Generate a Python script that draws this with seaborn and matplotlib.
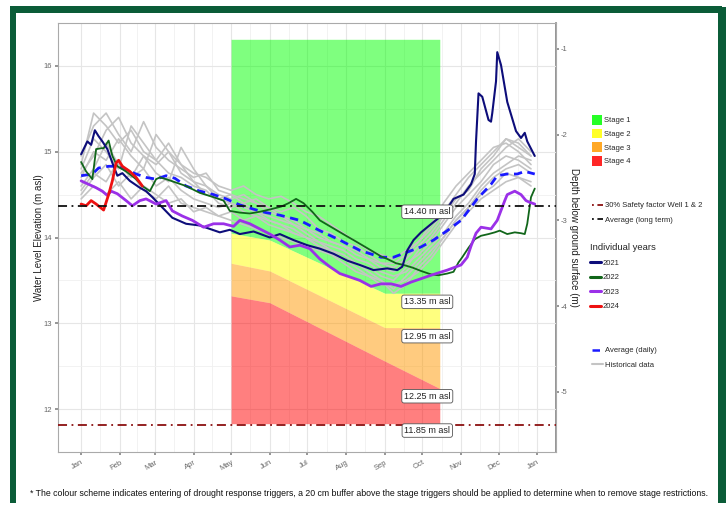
import numpy as np
import pandas as pd
import seaborn as sns
import matplotlib.pyplot as plt
from matplotlib.patches import Patch, Rectangle
from matplotlib.lines import Line2D

# ---- axis setup -------------------------------------------------------------
month_days = [0, 31, 59, 90, 120, 151, 181, 212, 243, 273, 304, 334, 365]
month_labels = ["Jan", "Feb", "Mar", "Apr", "May", "Jun", "Jul",
                "Aug", "Sep", "Oct", "Nov", "Dec", "Jan"]

# ---- drought stage triggers (m asl) ----------------------------------------
stage_days = [120, 151, 243, 287]
stage1_top = [16.31, 16.31, 16.31, 16.31]
stage2_top = [14.05, 13.97, 13.35, 13.35]
stage3_top = [13.70, 13.61, 12.95, 12.95]
stage4_top = [13.32, 13.24, 12.56, 12.24]
stage_floor = 11.83

long_term_avg = 14.37
safety_level = 11.81
label_values = [14.40, 13.35, 12.95, 12.25, 11.85]

# ---- individual years -------------------------------------------------------
days_2021 = [0, 5, 8, 11, 14, 17, 21, 25, 29, 33, 39, 47, 52, 57, 65, 73, 84, 95,
             103, 111, 119, 127, 138, 151, 159, 170, 181, 191, 202, 213, 223,
             234, 245, 253, 257, 261, 266, 272, 282, 290, 298, 306, 312, 315,
             316, 318, 321, 326, 328, 329, 332, 333, 336, 341, 348, 352, 355,
             357, 363]
wl_2021 = [14.97, 15.12, 15.08, 15.25, 15.18, 15.12, 15.03, 14.87, 14.72, 14.75,
           14.66, 14.58, 14.54, 14.47, 14.35, 14.23, 14.16, 14.14, 14.10, 14.06,
           14.09, 14.04, 14.07, 14.00, 14.04, 13.97, 13.91, 13.87, 13.81, 13.73,
           13.68, 13.62, 13.64, 13.62, 13.66, 13.85, 13.97, 14.06, 14.18, 14.27,
           14.45, 14.50, 14.62, 14.74, 15.12, 15.68, 15.64, 15.37, 15.35, 15.45,
           15.82, 16.16, 16.01, 15.58, 15.24, 15.16, 15.22, 15.12, 14.95]

days_2022 = [0, 4, 9, 12, 16, 18, 22, 25, 29, 36, 44, 49, 55, 60, 63, 68, 76, 84,
             95, 106, 114, 119, 127, 135, 143, 152, 160, 166, 172, 178, 185, 191,
             198, 205, 212, 218, 225, 232, 240, 245, 252, 258, 265, 272, 280,
             286, 293, 298, 302, 305, 310, 315, 320, 326, 331, 335, 341, 347,
             352, 355, 357, 360, 363]
wl_2022 = [14.88, 14.77, 14.68, 15.03, 15.04, 15.04, 15.13, 14.95, 14.83, 14.77,
           14.68, 14.60, 14.54, 14.68, 14.70, 14.68, 14.64, 14.60, 14.52, 14.47,
           14.43, 14.31, 14.29, 14.28, 14.30, 14.33, 14.36, 14.40, 14.45, 14.40,
           14.30, 14.20, 14.14, 14.08, 14.02, 13.97, 13.91, 13.85, 13.78, 13.75,
           13.70, 13.68, 13.65, 13.61, 13.57, 13.56, 13.58, 13.60, 13.71, 13.77,
           13.88, 13.98, 14.02, 14.04, 14.06, 14.08, 14.04, 14.06, 14.05, 14.04,
           14.16, 14.47, 14.57]

days_2023 = [0, 6, 12, 17, 21, 24, 29, 36, 41, 47, 52, 60, 68, 73, 81, 89, 98,
             106, 114, 122, 127, 135, 143, 151, 159, 167, 175, 183, 191, 199,
             207, 215, 223, 232, 240, 248, 256, 264, 272, 282, 293, 304, 309,
             312, 316, 320, 328, 333, 339, 341, 347, 352, 356, 359, 363]
wl_2023 = [14.66, 14.62, 14.58, 14.54, 14.49, 14.54, 14.51, 14.43, 14.37, 14.43,
           14.45, 14.39, 14.43, 14.31, 14.25, 14.20, 14.12, 14.16, 14.16, 14.13,
           14.20, 14.16, 14.10, 14.04, 13.97, 13.89, 13.91, 13.87, 13.75, 13.66,
           13.58, 13.54, 13.50, 13.43, 13.46, 13.46, 13.43, 13.48, 13.52, 13.57,
           13.62, 13.68, 13.77, 13.90, 14.05, 14.12, 14.10, 14.20, 14.43, 14.50,
           14.54, 14.50, 14.43, 14.41, 14.39]

days_2024 = [0, 4, 8, 12, 18, 22, 25, 28, 30, 33, 39, 44, 49]
wl_2024 = [14.39, 14.37, 14.43, 14.39, 14.32, 14.50, 14.66, 14.87, 14.90, 14.83,
           14.77, 14.70, 14.60]

# ---- daily average ----------------------------------------------------------
days_avg = [0, 9, 14, 22, 29, 36, 44, 52, 60, 68, 75, 84, 95, 106, 116, 127, 138,
            148, 159, 175, 191, 207, 223, 240, 250, 261, 272, 282, 293, 304, 317,
            328, 333, 341, 349, 355, 363]
wl_avg = [14.72, 14.74, 14.81, 14.83, 14.83, 14.79, 14.74, 14.70, 14.68, 14.72,
          14.69, 14.60, 14.54, 14.50, 14.45, 14.38, 14.33, 14.29, 14.26, 14.20,
          14.08, 13.97, 13.85, 13.77, 13.77, 13.83, 13.89, 13.97, 14.08, 14.20,
          14.45, 14.62, 14.72, 14.74, 14.74, 14.77, 14.74]

# ---- historical years (10-day readings) -------------------------------------
hist_days = [0, 10, 20, 30, 40, 50, 60, 70, 80, 90, 100, 110, 120, 130, 140, 150,
             160, 170, 180, 190, 200, 210, 220, 230, 240, 250, 260, 270, 280, 290,
             300, 310, 320, 330, 340, 350, 360]
hist_1 = [14.85, 15.45, 15.30, 15.10, 15.25, 15.00, 14.90, 15.10, 14.85, 14.75,
          14.70, 14.60, 14.55, 14.60, 14.50, 14.45, 14.48, 14.40, 14.30, 14.25,
          14.15, 14.05, 13.95, 13.85, 13.80, 13.75, 13.85, 13.95, 14.15, 14.40,
          14.60, 14.75, 14.90, 15.05, 15.10, 15.00, 14.85]
hist_2 = [14.95, 15.30, 15.45, 15.20, 15.00, 15.35, 15.05, 14.90, 14.80, 14.70,
          14.75, 14.55, 14.50, 14.40, 14.45, 14.35, 14.30, 14.35, 14.25, 14.10,
          14.05, 13.95, 13.90, 13.80, 13.70, 13.65, 13.75, 13.90, 14.05, 14.25,
          14.45, 14.55, 14.80, 14.95, 15.15, 15.05, 14.95]
hist_3 = [14.50, 14.70, 14.85, 14.60, 14.75, 14.55, 14.45, 14.60, 14.40, 14.35,
          14.30, 14.25, 14.30, 14.20, 14.25, 14.15, 14.10, 14.05, 14.00, 13.90,
          13.85, 13.80, 13.70, 13.60, 13.50, 13.40, 13.55, 13.70, 13.85, 14.00,
          14.20, 14.35, 14.50, 14.60, 14.75, 14.70, 14.65]
hist_4 = [14.70, 15.00, 14.90, 15.15, 14.95, 14.80, 15.20, 15.00, 14.85, 14.65,
          14.60, 14.50, 14.45, 14.50, 14.40, 14.35, 14.25, 14.20, 14.10, 14.05,
          13.95, 13.90, 13.80, 13.75, 13.65, 13.60, 13.70, 13.80, 13.95, 14.15,
          14.35, 14.50, 14.65, 14.85, 14.95, 14.90, 14.80]
hist_5 = [14.60, 14.80, 15.10, 14.85, 14.70, 14.95, 14.75, 14.65, 15.05, 14.80,
          14.60, 14.45, 14.40, 14.35, 14.30, 14.25, 14.20, 14.15, 14.05, 13.95,
          13.90, 13.85, 13.75, 13.70, 13.60, 13.55, 13.60, 13.75, 13.90, 14.05,
          14.25, 14.40, 14.60, 14.75, 14.85, 14.95, 14.90]
hist_6 = [14.80, 15.15, 15.00, 14.80, 15.30, 15.10, 14.90, 14.75, 14.70, 14.60,
          14.55, 14.40, 14.35, 14.40, 14.30, 14.20, 14.15, 14.05, 14.00, 13.95,
          13.85, 13.75, 13.70, 13.65, 13.55, 13.50, 13.65, 13.85, 14.00, 14.20,
          14.40, 14.60, 14.75, 14.90, 15.05, 15.15, 15.00]
hist_7 = [14.45, 14.60, 14.50, 14.65, 14.45, 14.60, 14.50, 14.40, 14.45, 14.30,
          14.35, 14.25, 14.20, 14.15, 14.10, 14.05, 14.00, 13.95, 13.90, 13.85,
          13.80, 13.75, 13.65, 13.55, 13.45, 13.45, 13.50, 13.60, 13.75, 13.95,
          14.15, 14.30, 14.45, 14.55, 14.65, 14.70, 14.60]
hist_8 = [14.75, 14.95, 15.25, 15.40, 15.10, 14.95, 14.85, 15.00, 14.75, 14.65,
          14.50, 14.45, 14.50, 14.45, 14.40, 14.30, 14.25, 14.15, 14.10, 14.00,
          13.95, 13.90, 13.85, 13.75, 13.70, 13.70, 13.80, 13.95, 14.10, 14.30,
          14.50, 14.70, 14.85, 15.00, 15.15, 15.10, 14.95]
hist_9 = [14.55, 14.75, 14.65, 14.90, 14.70, 14.80, 14.60, 14.70, 14.55, 14.45,
          14.40, 14.35, 14.40, 14.30, 14.25, 14.20, 14.15, 14.10, 14.00, 13.90,
          13.80, 13.70, 13.60, 13.55, 13.50, 13.35, 13.45, 13.65, 13.80, 14.00,
          14.20, 14.35, 14.55, 14.70, 14.80, 14.85, 14.75]

footnote = ("* The colour scheme indicates entering of drought response triggers, "
            "a 20 cm buffer above the stage triggers should be applied to determine "
            "when to remove stage restrictions.")

# ---- figure -----------------------------------------------------------------
sns.set_theme(style="whitegrid")
plt.rcParams["font.family"] = ["Liberation Sans", "DejaVu Sans"]
plt.rcParams["axes.unicode_minus"] = False

W, H = 726, 508
fig = plt.figure(figsize=(W / 100, H / 100), dpi=100, facecolor="white")
ax = fig.add_axes([58 / W, 1 - 452 / H, (556 - 58) / W, (452 - 23) / H])
ax.set_facecolor("white")

# stage polygons
ax.fill_between(stage_days, stage2_top, stage1_top, color="#00ff00", alpha=0.5, lw=0, zorder=1)
ax.fill_between(stage_days, stage3_top, stage2_top, color="#ffff00", alpha=0.5, lw=0, zorder=1)
ax.fill_between(stage_days, stage4_top, stage3_top, color="#ff9900", alpha=0.5, lw=0, zorder=1)
ax.fill_between(stage_days, [stage_floor] * 4, stage4_top, color="#ff0000", alpha=0.5, lw=0, zorder=1)

# historical grey lines
hist = pd.DataFrame({
    "day": hist_days * 9,
    "wl": hist_1 + hist_2 + hist_3 + hist_4 + hist_5 + hist_6 + hist_7 + hist_8 + hist_9,
    "yr": np.repeat(np.arange(9), len(hist_days)),
})
sns.lineplot(data=hist, x="day", y="wl", units="yr", estimator=None,
             color="#c4c4c4", lw=1.2, ax=ax, zorder=2)

sns.lineplot(x=days_avg, y=wl_avg, color="#1a1aff", lw=2.0, ax=ax,
             linestyle=(0, (3, 2)), zorder=4)
sns.lineplot(x=days_2022, y=wl_2022, color="#11661a", lw=1.3, ax=ax, zorder=5)
sns.lineplot(x=days_2021, y=wl_2021, color="#0d0d7a", lw=1.5, ax=ax, zorder=5)
sns.lineplot(x=days_2023, y=wl_2023, color="#9b30e8", lw=2.0, ax=ax, zorder=5)
sns.lineplot(x=days_2024, y=wl_2024, color="#ee1111", lw=2.0, ax=ax, zorder=6)

# reference lines
dashdot = (0, (5, 2.5, 1, 2.5))
ax.axhline(long_term_avg, color="#111111", lw=1.3, linestyle=dashdot, zorder=7)
ax.axhline(safety_level, color="#8b1010", lw=1.3, linestyle=dashdot, zorder=7)

for v in label_values:
    ax.text(277, v - 0.1, f"{v:.2f} m asl", ha="center", va="center", fontsize=6.5,
            color="#222222", zorder=8,
            bbox=dict(boxstyle="round,pad=0.25", fc="white", ec="#555555", lw=0.6))

# axes styling
ax.set_xlim(-18.5, 380)
ax.set_ylim(11.52, 16.46)
ax.set_xticks(month_days)
ax.set_xticklabels(month_labels, rotation=30, ha="right", rotation_mode="anchor",
                   fontsize=5.5, color="#666666")
ax.set_xticks([(a + b) / 2 for a, b in zip(month_days[:-1], month_days[1:])], minor=True)
ax.set_yticks([12, 13, 14, 15, 16])
ax.set_yticks([11.5, 12.5, 13.5, 14.5, 15.5, 16.5], minor=True)
ax.tick_params(axis="y", labelsize=5.5, labelcolor="#666666", length=2, color="#888888",
               left=True, pad=2)
ax.tick_params(axis="x", length=2, color="#888888", bottom=True, pad=3)
ax.grid(which="major", color="#e6e6e6", lw=0.8)
ax.grid(which="minor", color="#f0f0f0", lw=0.6)
ax.set_xlabel("")
ax.set_ylabel("Water Level Elevation (m asl)", fontsize=7, color="#222222", labelpad=0)
for s in ax.spines.values():
    s.set_color("#aaaaaa")
    s.set_linewidth(0.8)

sec = ax.secondary_yaxis("right", functions=(lambda e: e - 17.2, lambda d: d + 17.2))
sec.set_yticks([-1, -2, -3, -4, -5])
sec.tick_params(labelsize=5.5, labelcolor="#666666", length=2, color="#888888", pad=1)
sec.spines["right"].set_color("#888888")
sec.set_ylabel("Depth below ground surface (m)", rotation=-90, fontsize=7,
               color="#222222", labelpad=9)

# legends
stage_handles = [Patch(fc=c, ec="none", alpha=0.85) for c in
                 ["#00ff00", "#ffff00", "#ff9900", "#ff0000"]]
leg_kw = dict(loc="upper left", frameon=False, fontsize=5.5, handletextpad=0.3,
              borderpad=0, borderaxespad=0)
fig.legend(stage_handles, ["Stage 1", "Stage 2", "Stage 3", "Stage 4"],
           bbox_to_anchor=(592 / W, 1 - 115 / H), handlelength=1.3, handleheight=1.6,
           labelspacing=0.5, **leg_kw)
ref_handles = [Line2D([], [], color="#8b1010", lw=1.3, linestyle=(0, (1, 2, 4, 2))),
               Line2D([], [], color="#111111", lw=1.3, linestyle=(0, (1, 2, 4, 2)))]
fig.legend(ref_handles, ["30% Safety factor Well 1 & 2", "Average (long term)"],
           bbox_to_anchor=(592 / W, 1 - 202 / H), handlelength=1.4,
           labelspacing=0.9, **leg_kw)
year_handles = [Line2D([], [], color=c, lw=2.2) for c in
                ["#0d0d7a", "#11661a", "#9b30e8", "#ee1111"]]
yl = fig.legend(year_handles, ["2021", "2022", "2023", "2024"],
                bbox_to_anchor=(590 / W, 1 - 243 / H), handlelength=1.4,
                labelspacing=0.95, title="Individual years",
                title_fontproperties={"size": 6.8}, **leg_kw)
yl._legend_box.align = "left"
avg_handles = [Line2D([], [], color="#1a1aff", lw=1.8, linestyle=(0, (3, 2))),
               Line2D([], [], color="#c4c4c4", lw=1.5)]
fig.legend(avg_handles, ["Average (daily)", "Historical data"],
           bbox_to_anchor=(592 / W, 1 - 347 / H), handlelength=1.4,
           labelspacing=0.9, **leg_kw)

fig.text(30 / W, 1 - 494 / H, footnote, fontsize=6.3, color="#111111", va="center")

# dark green frame
frame_c = "#0b5c38"
fig.patches.append(Rectangle((10 / W, 1 - 13 / H), 712 / W, 7 / H, transform=fig.transFigure,
                             fc=frame_c, ec="none"))
fig.patches.append(Rectangle((10 / W, 1 - 503 / H), 6 / W, 496 / H, transform=fig.transFigure,
                             fc=frame_c, ec="none"))
fig.patches.append(Rectangle((718 / W, 1 - 503 / H), 8 / W, 496 / H, transform=fig.transFigure,
                             fc=frame_c, ec="none"))

fig.savefig("out.png", dpi=100, facecolor="white")
